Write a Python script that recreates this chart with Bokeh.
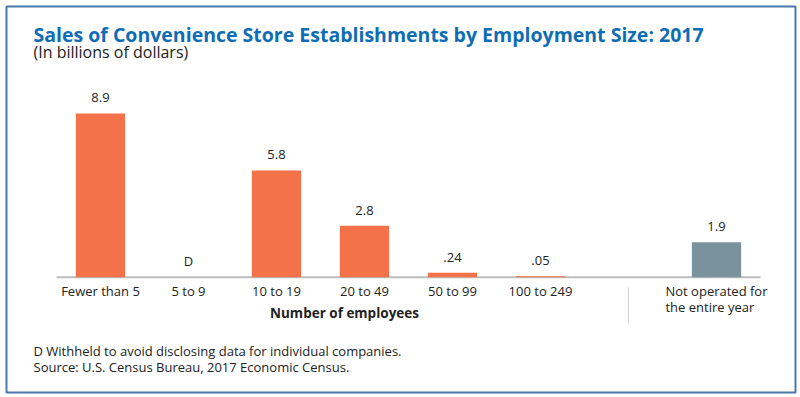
from bokeh.plotting import figure
from bokeh.models import ColumnDataSource, Range1d, Label, LabelSet, BoxAnnotation
from bokeh.core.properties import value
from bokeh.embed import file_html
from bokeh.resources import INLINE

# ---- data ----
categories = ["Fewer than 5", "5 to 9", "10 to 19", "20 to 49", "50 to 99",
              "100 to 249", "Not operated for the entire year"]
sales = [8.9, 0.0, 5.8, 2.8, 0.24, 0.05, 1.9]
value_labels = ["8.9", "D", "5.8", "2.8", ".24", ".05", "1.9"]
tick_labels = ["Fewer than 5", "5 to 9", "10 to 19", "20 to 49", "50 to 99",
               "100 to 249", "Not operated for\nthe entire year"]
bar_colors = ["#F4724A"] * 6 + ["#7A929E"]
spacer = " "

title_text = "Sales of Convenience Store Establishments by Employment Size: 2017"
subtitle_text = "(In billions of dollars)"
xlabel_text = "Number of employees"
note_text = "D Withheld to avoid disclosing data for individual companies."
source_text = "Source: U.S. Census Bureau, 2017 Economic Census."

FONT = "Open Sans"
W, H = 800, 397
X0, SLOT = 56.0, 88.0          # pixel of first slot start, slot width
BASE, PPU = 276.7, 18.4        # baseline pixel, pixels per billion

def xd(px):
    return (px - X0) / SLOT

def yd(py):
    return (BASE - py) / PPU

factors = categories[:6] + [spacer] + categories[6:]
xpos = [factors.index(c) + 0.5 for c in categories]
src = ColumnDataSource(dict(x=xpos, val=sales, lab=value_labels, tick=tick_labels,
                            color=bar_colors, zero=[0.0] * len(categories)))

p = figure(width=W, height=H, output_backend="svg", toolbar_location=None,
           x_range=Range1d(xd(0), xd(W)), y_range=Range1d(yd(H), yd(0)),
           min_border=0)
p.outline_line_color = None
p.grid.visible = False
p.axis.visible = False
p.background_fill_color = "white"
p.border_fill_color = "white"

# axis line
p.segment(x0=0, x1=len(factors), y0=0, y1=0, line_color="#BDBDBD", line_width=2)

p.vbar(x="x", top="val", bottom=0, width=0.56, fill_color="color", line_color=None, source=src)

p.add_layout(LabelSet(x="x", y="val", text="lab", source=src, y_offset=11,
                      text_align="center", text_baseline="alphabetic",
                      text_font=value(FONT), text_font_size="13px", text_color="#222222"))

# category labels
p.add_layout(LabelSet(x="x", y="zero", text="tick", source=src, y_offset=-5,
                      text_align="center", text_baseline="top", text_line_height=0.9,
                      text_font=value(FONT), text_font_size="13px", text_color="#222222"))

# separator
sep_x = factors.index(spacer) + 0.5
p.segment(x0=sep_x, x1=sep_x, y0=yd(287), y1=yd(323), line_color="#D3D3D3", line_width=1)

# border
p.add_layout(BoxAnnotation(left=xd(6), right=xd(795), top=yd(6), bottom=yd(392),
                           fill_color=None, line_color="#4A78AE", line_alpha=1.0, line_width=2))

def lab(text, px, py, size, bold=False, color="#222222", align="left"):
    p.add_layout(Label(x=xd(px), y=yd(py), text=text,
                       text_font=FONT, text_font_size=size,
                       text_font_style="bold" if bold else "normal",
                       text_color=color, text_align=align, text_baseline="alphabetic"))

lab(title_text, 33, 34, "19.5px", bold=True, color="#0F6DB5")
lab(subtitle_text, 33, 51, "16px")
lab(xlabel_text, 344, 312, "13.5px", bold=True, align="center")
lab(note_text, 33, 350, "13px")
lab(source_text, 33, 366, "13px")

open("out.html", "w").write(file_html(p, INLINE))
